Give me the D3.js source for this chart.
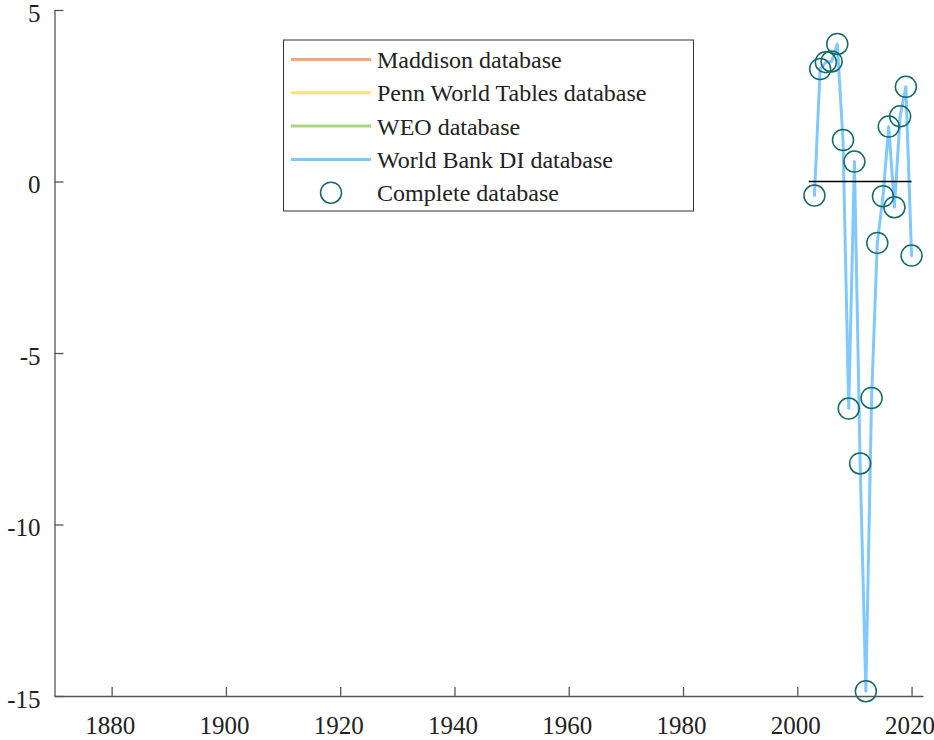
<!DOCTYPE html>
<html>
<head>
<meta charset="utf-8">
<script src="https://cdn.jsdelivr.net/npm/d3@7"></script>
<style>
  html, body { margin: 0; padding: 0; background: #fff; }
  svg { display: block; }
  svg text { font-family: "Liberation Serif", "Times New Roman", serif !important; fill: #222; }
</style>
</head>
<body>
<script>
// ---- data ----
const years = [2003, 2004, 2005, 2006, 2007, 2008, 2009, 2010, 2011, 2012, 2013, 2014, 2015, 2016, 2017, 2018, 2019, 2020];
const completeValues = [-0.41, 3.28, 3.48, 3.50, 4.01, 1.21, -6.62, 0.58, -8.22, -14.86, -6.31, -1.79, -0.43, 1.60, -0.75, 1.90, 2.76, -2.16];
const maddisonValues = [];
const pennValues = [];
const weoValues = [];
const worldBankValues = [-0.41, 3.28, 3.48, 3.50, 4.01, 1.21, -6.62, 0.58, -8.22, -14.86, -6.31, -1.79, -0.43, 1.60, -0.75, 1.90, 2.76, -2.16];
const zeroLineYears = [2002, 2020];
const xTicks = [1880, 1900, 1920, 1940, 1960, 1980, 2000, 2020];
const yTicks = [-15, -10, -5, 0, 5];
const legendLabels = ["Maddison database", "Penn World Tables database", "WEO database", "World Bank DI database", "Complete database"];

const colors = {
  maddison: "#f6a87c",
  penn: "#ffe27a",
  weo: "#a9d67f",
  wb: "#80c8ff",
  complete: "#17696b"
};

const W = 934, H = 740;
const FONT = '"Liberation Serif", "Times New Roman", serif';
const svg = d3.select("body").append("svg").attr("width", W).attr("height", H);

const x = d3.scaleLinear().domain([1870, 2022]).range([54.5, 923]);
const y = d3.scaleLinear().domain([-15, 5]).range([696, 10]);

const fmt = d => String(d); // hyphen-minus like the reference

// axes
const axisColor = "#555";
const xAxis = svg.append("g").attr("transform", `translate(0,${y(-15)})`)
  .call(d3.axisBottom(x).tickValues(xTicks).tickFormat(fmt).tickSizeInner(-9).tickSizeOuter(0).tickPadding(20));
const yAxis = svg.append("g").attr("transform", `translate(${x(1870)},0)`)
  .call(d3.axisLeft(y).tickValues(yTicks).tickFormat(fmt).tickSizeInner(-9).tickSizeOuter(0).tickPadding(14));
[xAxis, yAxis].forEach(g => {
  g.attr("font-family", FONT).attr("font-size", 25);
  g.select(".domain").attr("stroke", axisColor).attr("stroke-width", 1.3);
  g.selectAll(".tick line").attr("stroke", axisColor).attr("stroke-width", 1.3);
  g.selectAll(".tick text").attr("font-family", FONT).attr("font-size", 25).attr("fill", "#222");
});
xAxis.selectAll(".tick text").attr("dy", "0.71em").attr("dx", -2);
yAxis.selectAll(".tick text").attr("dy", "0.44em");

// series lines
const line = d3.line().x(d => x(d[0])).y(d => y(d[1]));
function drawSeries(vals, color) {
  if (!vals.length) return;
  svg.append("path")
    .datum(years.map((yr, i) => [yr, vals[i]]).filter(d => d[1] != null))
    .attr("fill", "none").attr("stroke", color).attr("stroke-width", 3)
    .attr("stroke-linejoin", "round").attr("stroke-linecap", "round")
    .attr("d", line);
}
drawSeries(maddisonValues, colors.maddison);
drawSeries(pennValues, colors.penn);
drawSeries(weoValues, colors.weo);
drawSeries(worldBankValues, colors.wb);

// zero line
svg.append("line")
  .attr("x1", x(zeroLineYears[0])).attr("x2", x(zeroLineYears[1]))
  .attr("y1", y(0)).attr("y2", y(0))
  .attr("stroke", "#000").attr("stroke-width", 1.5);

// complete database circles
svg.append("g").selectAll("circle")
  .data(years.map((yr, i) => [yr, completeValues[i]]))
  .join("circle")
  .attr("cx", d => x(d[0])).attr("cy", d => y(d[1]))
  .attr("r", 10.5)
  .attr("fill", "none").attr("stroke", colors.complete).attr("stroke-width", 1.5);

// legend
const lg = svg.append("g");
lg.append("rect").attr("x", 283.5).attr("y", 40).attr("width", 410).attr("height", 171)
  .attr("fill", "#fff").attr("stroke", "#333").attr("stroke-width", 1);
const lineColors = [colors.maddison, colors.penn, colors.weo, colors.wb];
legendLabels.forEach((lab, i) => {
  const cy = 59.5 + i * 33.3;
  if (i < 4) {
    lg.append("line").attr("x1", 291).attr("x2", 371).attr("y1", cy).attr("y2", cy)
      .attr("stroke", lineColors[i]).attr("stroke-width", 3);
  } else {
    lg.append("circle").attr("cx", 331).attr("cy", cy).attr("r", 10.5)
      .attr("fill", "none").attr("stroke", colors.complete).attr("stroke-width", 1.5);
  }
  lg.append("text").attr("x", 377).attr("y", cy + 8.5)
    .attr("font-family", FONT).attr("font-size", 24).text(lab);
});
</script>
</body>
</html>
